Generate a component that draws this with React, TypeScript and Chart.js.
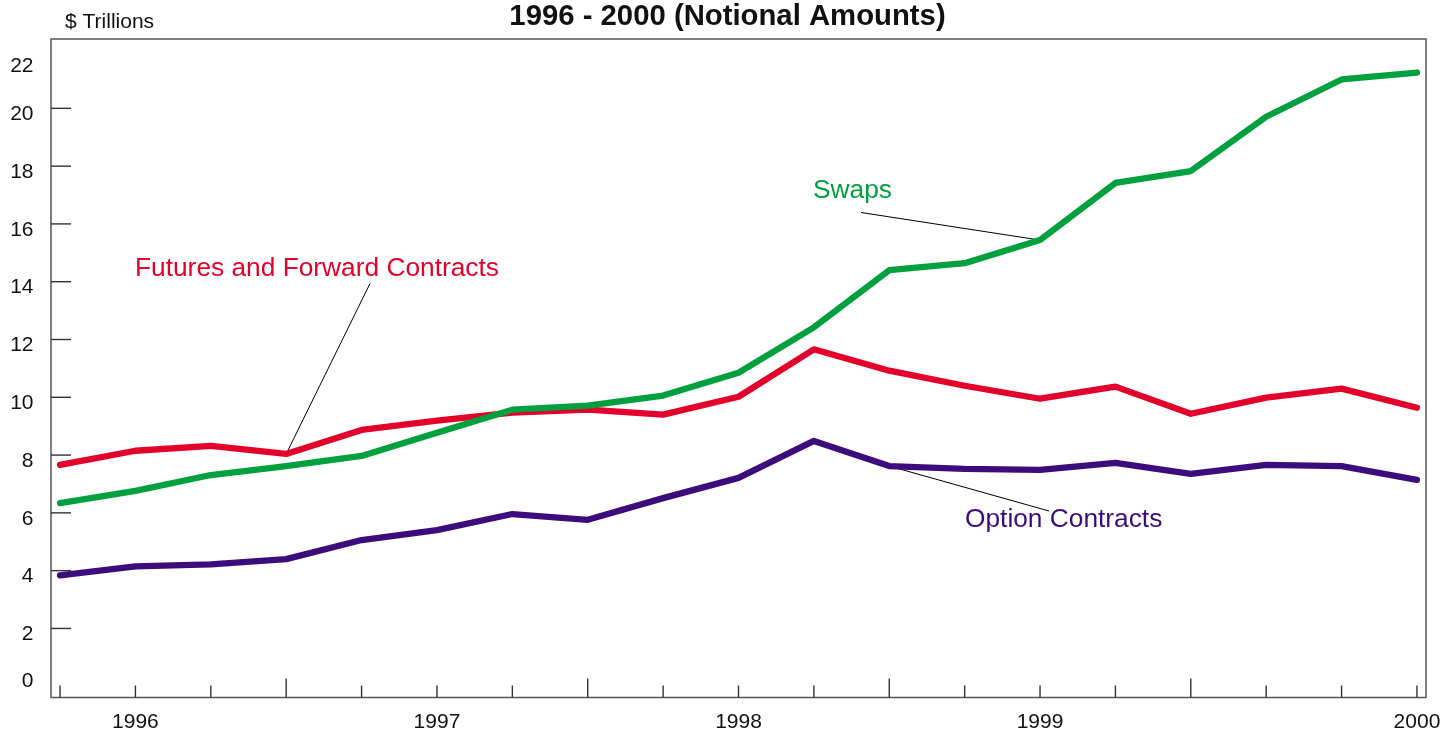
import React, { useEffect, useRef } from "react";
import { Chart, registerables } from "chart.js";

Chart.register(...registerables);

// ---- data ----
const periods = [
  "1995Q4",
  "1996Q1", "1996Q2", "1996Q3", "1996Q4",
  "1997Q1", "1997Q2", "1997Q3", "1997Q4",
  "1998Q1", "1998Q2", "1998Q3", "1998Q4",
  "1999Q1", "1999Q2", "1999Q3", "1999Q4",
  "2000Q1", "2000Q2",
];

const swaps = [6.34, 6.76, 7.31, 7.62, 7.97, 8.77, 9.57, 9.71, 10.06, 10.85, 12.42, 14.4, 14.64, 15.44, 17.42, 17.83, 19.71, 21.0, 21.24];
const futuresForwards = [7.66, 8.15, 8.32, 8.04, 8.87, 9.19, 9.47, 9.57, 9.4, 10.02, 11.66, 10.92, 10.4, 9.95, 10.37, 9.43, 9.99, 10.3, 9.64];
const optionContracts = [3.84, 4.15, 4.22, 4.4, 5.06, 5.4, 5.96, 5.76, 6.51, 7.21, 8.49, 7.62, 7.52, 7.49, 7.73, 7.35, 7.66, 7.62, 7.14];

const yTickValues = [0, 2, 4, 6, 8, 10, 12, 14, 16, 18, 20, 22];
const xLabelIndex = [1, 5, 9, 13, 18];
const xLabelText = ["1996", "1997", "1998", "1999", "2000"];
const xMajorTickIndex = [3, 7, 11, 15];

const titleText = "1996 - 2000 (Notional Amounts)";
const unitText = "$ Trillions";

// ---- styles ----
const RED = "#E3002B";
const GREEN = "#00A03E";
const PURPLE = "#3D0C7C";
const FONT = "'Liberation Sans', Arial, sans-serif";

const framePlugin = {
  id: "framePlugin",
  beforeDatasetsDraw(chart: any) {
    const ctx = chart.ctx as CanvasRenderingContext2D;
    const { left, right, top, bottom } = chart.chartArea;
    const xs = chart.scales.x;
    const ys = chart.scales.y;
    ctx.save();
    // frame
    ctx.strokeStyle = "#555";
    ctx.lineWidth = 1.5;
    ctx.strokeRect(left, top, right - left, bottom - top);
    // y inside ticks
    ctx.strokeStyle = "#333";
    ctx.lineWidth = 1.4;
    yTickValues.forEach((v) => {
      if (v === 0 || v === 22) return;
      const py = ys.getPixelForValue(v);
      ctx.beginPath();
      ctx.moveTo(left, py);
      ctx.lineTo(left + 20, py);
      ctx.stroke();
    });
    // x inside ticks
    periods.forEach((_, i) => {
      const px = xs.getPixelForValue(i);
      const len = xMajorTickIndex.includes(i) ? 19 : 12;
      ctx.beginPath();
      ctx.moveTo(px, bottom);
      ctx.lineTo(px, bottom - len);
      ctx.stroke();
    });
    // y labels
    ctx.fillStyle = "#111";
    ctx.font = `21px ${FONT}`;
    ctx.textAlign = "right";
    ctx.textBaseline = "alphabetic";
    yTickValues.forEach((v) => {
      const py = ys.getPixelForValue(v);
      const nudge = v === 0 ? 0.5 : v === 22 ? 21 : 11.7;
      ctx.fillText(String(v), 33.5, py + nudge);
    });
    // x labels
    ctx.textAlign = "center";
    xLabelIndex.forEach((idx, k) => {
      ctx.fillText(xLabelText[k], xs.getPixelForValue(idx), 728);
    });
    // title
    ctx.font = `bold 29.3px ${FONT}`;
    ctx.fillText(titleText, 727.5, 25);
    ctx.font = `21px ${FONT}`;
    ctx.textAlign = "left";
    ctx.fillText(unitText, 65, 27.5);

    // leader lines (under the series)
    ctx.strokeStyle = "#000";
    ctx.lineWidth = 1;
    const leader = (x0: number, y0: number, idx: number, arr: number[]) => {
      ctx.beginPath();
      ctx.moveTo(x0, y0);
      ctx.lineTo(xs.getPixelForValue(idx), ys.getPixelForValue(arr[idx]));
      ctx.stroke();
    };
    leader(861, 212.5, 13, swaps);
    leader(370, 283.5, 3, futuresForwards);
    leader(1049, 511, 11, optionContracts);
    ctx.restore();
  },
  afterDatasetsDraw(chart: any) {
    const ctx = chart.ctx as CanvasRenderingContext2D;
    ctx.save();
    ctx.font = `26.3px ${FONT}`;
    ctx.textAlign = "left";
    ctx.textBaseline = "alphabetic";
    ctx.fillStyle = GREEN;
    ctx.fillText("Swaps", 813, 197.5);
    ctx.fillStyle = RED;
    ctx.fillText("Futures and Forward Contracts", 135, 276);
    ctx.fillStyle = PURPLE;
    ctx.fillText("Option Contracts", 965, 526.5);
    ctx.restore();
  },
};

export default function App() {
  const ref = useRef<HTMLCanvasElement | null>(null);

  useEffect(() => {
    if (!ref.current) return;
    const toPoints = (arr: number[]) => arr.map((v, i) => ({ x: i, y: v }));
    const common = {
      borderWidth: 6.3,
      pointRadius: 0,
      pointHoverRadius: 0,
      tension: 0,
      borderCapStyle: "round" as const,
      borderJoinStyle: "round" as const,
      fill: false,
    };
    const chart = new Chart(ref.current, {
      type: "line",
      data: {
        datasets: [
          { label: "Swaps", data: toPoints(swaps), borderColor: GREEN, backgroundColor: GREEN, ...common },
          { label: "Futures and Forward Contracts", data: toPoints(futuresForwards), borderColor: RED, backgroundColor: RED, ...common },
          { label: "Option Contracts", data: toPoints(optionContracts), borderColor: PURPLE, backgroundColor: PURPLE, ...common },
        ],
      },
      options: {
        animation: false,
        responsive: false,
        maintainAspectRatio: false,
        devicePixelRatio: 1,
        layout: { padding: { left: 51, top: 39, right: 16, bottom: 34.5 } },
        plugins: {
          legend: { display: false },
          tooltip: { enabled: false },
          title: { display: false },
        },
        scales: {
          x: { type: "linear", display: false, min: -0.12, max: 18.12 },
          y: { type: "linear", display: false, min: -0.39, max: 22.4 },
        },
      },
      plugins: [framePlugin],
    });
    return () => chart.destroy();
  }, []);

  return (
    <div style={{ position: "absolute", left: 0, top: 0, width: 1442, height: 732, background: "#fff" }}>
      <canvas ref={ref} width={1442} height={732} style={{ display: "block" }} />
    </div>
  );
}
